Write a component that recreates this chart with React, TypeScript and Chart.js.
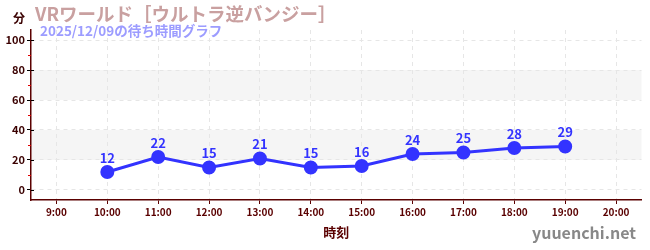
import React, { useEffect, useRef } from "react";
import { Chart, registerables } from "chart.js";

Chart.register(...registerables);

const categories = ["9:00", "10:00", "11:00", "12:00", "13:00", "14:00", "15:00", "16:00", "17:00", "18:00", "19:00", "20:00"];
const waitTimes: (number | null)[] = [null, 12, 22, 15, 21, 15, 16, 24, 25, 28, 29, null];
const yMajorTicks = [0, 20, 40, 60, 80, 100];
const yMinorTicks = [10, 30, 50, 70, 90];
const bands = [[20, 40], [60, 80]];
const titleText = "VRワールド［ウルトラ逆バンジー］";
const subtitleText = "2025/12/09の待ち時間グラフ";
const unitText = "分";
const xTitleText = "時刻";
const siteText = "yuuenchi.net";

const FONT = "'Noto Sans CJK JP', 'Noto Sans', sans-serif";
const AXIS = "#5a0000";
const LINE = "#3333ff";

const decorPlugin = {
  id: "decor",
  beforeDraw(chart: any) {
    const { ctx, chartArea, scales } = chart;
    const y = scales.y;
    ctx.save();
    ctx.fillStyle = "#f5f5f5";
    for (const [a, b] of bands) {
      const t = y.getPixelForValue(b);
      const u = y.getPixelForValue(a);
      ctx.fillRect(chartArea.left, t, chartArea.right - chartArea.left, u - t);
    }
    ctx.restore();
  },
  afterDraw(chart: any) {
    const { ctx, chartArea, scales } = chart;
    const y = scales.y;
    ctx.save();
    ctx.strokeStyle = "#e00000";
    ctx.lineWidth = 1;
    for (const v of yMinorTicks) {
      const p = Math.round(y.getPixelForValue(v)) + 0.5;
      ctx.beginPath();
      ctx.moveTo(chartArea.left - 3, p);
      ctx.lineTo(chartArea.left, p);
      ctx.stroke();
    }
    ctx.strokeStyle = "#000";
    for (const v of yMajorTicks) {
      const p = Math.round(y.getPixelForValue(v)) + 0.5;
      ctx.beginPath();
      ctx.moveTo(chartArea.left, p);
      ctx.lineTo(chartArea.left + 3, p);
      ctx.stroke();
    }
    const meta = chart.getDatasetMeta(0);
    ctx.fillStyle = LINE;
    ctx.font = `bold 13px ${FONT}`;
    ctx.textAlign = "center";
    ctx.textBaseline = "alphabetic";
    meta.data.forEach((pt: any, i: number) => {
      const v = waitTimes[i];
      if (v == null) return;
      ctx.fillText(String(v), pt.x, pt.y - 9);
    });
    ctx.textAlign = "left";
    ctx.textBaseline = "middle";
    ctx.fillStyle = "#3a0000";
    ctx.font = `bold 12px ${FONT}`;
    ctx.fillText(unitText, 13, 18);
    ctx.fillStyle = "#c9a0a0";
    ctx.font = `bold 18.5px ${FONT}`;
    ctx.fillText(titleText, 35, 14);
    ctx.fillStyle = "#9c9cff";
    ctx.font = `bold 13.5px ${FONT}`;
    ctx.fillText(subtitleText, 40, 31);
    ctx.fillStyle = "#5a0000";
    ctx.font = `bold 13px ${FONT}`;
    ctx.textAlign = "center";
    ctx.fillText(xTitleText, (chartArea.left + chartArea.right) / 2, 232);
    ctx.fillStyle = "#888888";
    ctx.font = `bold 16px ${FONT}`;
    ctx.textAlign = "right";
    ctx.fillText(siteText, 636, 233);
    ctx.restore();
  },
};

export default function App() {
  const ref = useRef<HTMLCanvasElement | null>(null);
  useEffect(() => {
    if (!ref.current) return;
    const chart = new Chart(ref.current, {
      type: "line",
      data: {
        labels: categories,
        datasets: [
          {
            data: waitTimes,
            borderColor: LINE,
            backgroundColor: LINE,
            borderWidth: 3,
            pointRadius: 5.5,
            pointHoverRadius: 5.5,
            tension: 0,
            spanGaps: false,
          },
        ],
      },
      options: {
        responsive: false,
        animation: false,
        events: [],
        layout: { padding: { top: 30, right: 7, left: 0, bottom: 0 } },
        plugins: { legend: { display: false }, tooltip: { enabled: false }, title: { display: false } },
        scales: {
          x: {
            offset: true,
            grid: {
              offset: false,
              color: "#e6e6e6",
              tickColor: AXIS,
              tickLength: 4,
              drawOnChartArea: true,
            },
            border: { color: AXIS, width: 1.5, dash: [4, 4] },
            ticks: {
              color: AXIS,
              font: { family: FONT, size: 10, weight: "bold" },
              padding: 2,
              maxRotation: 0,
              autoSkip: false,
            },
            afterFit(scale: any) {
              scale.height = 50;
            },
          },
          y: {
            min: -6.67,
            max: 106.67,
            afterBuildTicks(scale: any) {
              scale.ticks = yMajorTicks.map((v) => ({ value: v }));
            },
            grid: {
              color: "#e6e6e6",
              tickColor: "#000",
              tickLength: 4,
            },
            border: { color: AXIS, width: 1.5, dash: [4, 4] },
            ticks: {
              color: "#3a0000",
              font: { family: FONT, size: 11, weight: "bold" },
              padding: 2,
            },
            afterFit(scale: any) {
              scale.width = 31;
            },
          },
        },
      },
      plugins: [decorPlugin],
    } as any);
    return () => chart.destroy();
  }, []);
  return (
    <div style={{ position: "absolute", left: 0, top: 0, width: 650, height: 250, background: "#fff" }}>
      <canvas ref={ref} width={650} height={250} style={{ width: 650, height: 250 }} />
    </div>
  );
}
